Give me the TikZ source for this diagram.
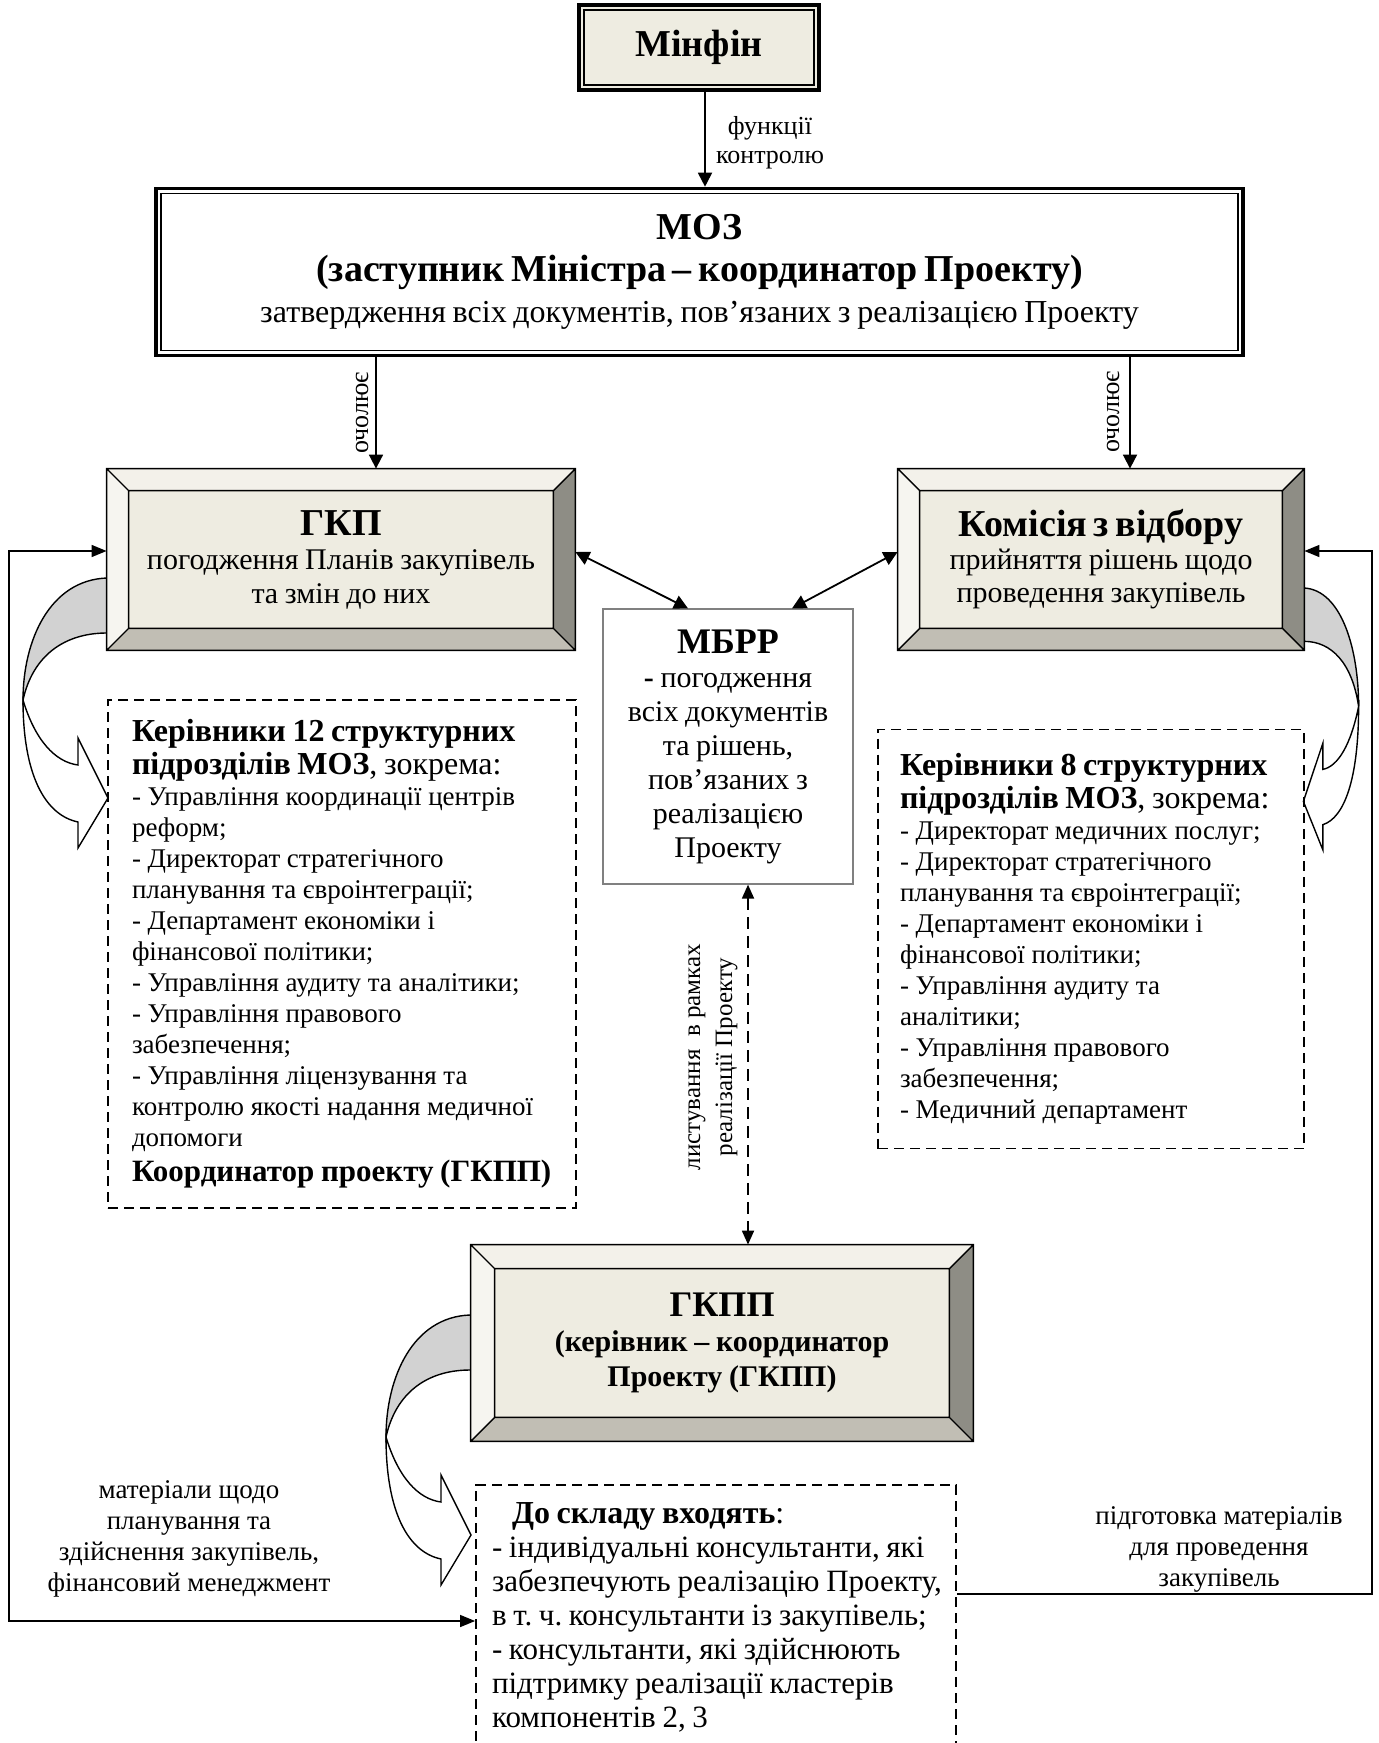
\documentclass[tikz,border=0pt]{standalone}
\usepackage{fontspec}
\setmainfont{Liberation Serif}
\usetikzlibrary{positioning, arrows.meta, calc}
\setlength{\parindent}{0pt}
\frenchspacing
\definecolor{orgFace}{HTML}{EEECE1}
\definecolor{orgTop}{HTML}{F3F1EA}
\definecolor{orgLeft}{HTML}{F6F5F0}
\definecolor{orgBottom}{HTML}{C1BEB4}
\definecolor{orgRight}{HTML}{8E8D85}
\definecolor{orgBend}{HTML}{D2D2D2}
\definecolor{orgGrey}{HTML}{808080}

\newcommand{\orgTitle}{\fontsize{19}{21}\selectfont\bfseries}
\newcommand{\orgDesc}{\fontsize{15}{17}\selectfont}
\newcommand{\orgHead}{\fontsize{16}{16.5}\selectfont\bfseries}
\newcommand{\orgBody}{\fontsize{13.5}{15.5}\selectfont}
\newcommand{\orgBig}{\fontsize{15.5}{17}\selectfont}

\newcommand{\bevelFrame}[2]{%
  \fill[orgTop] (#1.north west) -- (#1.north east) -- ($(#1.north east)+(-#2,-#2)$) -- ($(#1.north west)+(#2,-#2)$) -- cycle;
  \fill[orgLeft] (#1.north west) -- ($(#1.north west)+(#2,-#2)$) -- ($(#1.south west)+(#2,#2)$) -- (#1.south west) -- cycle;
  \fill[orgBottom] (#1.south west) -- ($(#1.south west)+(#2,#2)$) -- ($(#1.south east)+(-#2,#2)$) -- (#1.south east) -- cycle;
  \fill[orgRight] (#1.south east) -- ($(#1.south east)+(-#2,#2)$) -- ($(#1.north east)+(-#2,-#2)$) -- (#1.north east) -- cycle;
  \draw[line width=0.7pt] (#1.north west) rectangle (#1.south east)
    ($(#1.north west)+(#2,-#2)$) rectangle ($(#1.south east)+(-#2,#2)$)
    (#1.north west) -- ++(#2,-#2) (#1.north east) -- ++(-#2,-#2)
    (#1.south west) -- ++(#2,#2) (#1.south east) -- ++(-#2,#2);
}
\newcommand{\innerFrame}[1]{%
  \draw[line width=0.6pt] ($(#1.north west)+(3.4pt,-3.4pt)$) rectangle ($(#1.south east)+(-3.4pt,3.4pt)$);
}
\newcommand{\uturnArrow}[1]{%
  \begin{scope}[#1]
    \filldraw[fill=orgBend, line width=0.7pt] (0,0) .. controls (-57,2) and (-84,62) .. (-84,122)
      .. controls (-74,77) and (-42,55) .. (0,55);
    \filldraw[fill=white, line width=0.7pt] (-84,122) .. controls (-72,162) and (-52,184) .. (-29,187)
      -- (-29,160) -- (1,220) -- (-29,270) -- (-29,244) .. controls (-62,237) and (-84,197) .. (-84,122) -- cycle;
  \end{scope}}

\begin{document}
\begin{tikzpicture}[x=0.5pt, y=-0.5pt,
    orgDouble/.style={draw, line width=1.8pt, rectangle, align=center, inner sep=0pt},
    orgBevel/.style={rectangle, fill=orgFace, align=center, inner sep=0pt},
    orgPlain/.style={draw=orgGrey, line width=0.6pt, rectangle, fill=white, align=center, inner sep=0pt},
    orgNote/.style={draw, line width=0.9pt, dash pattern=on 5pt off 3pt, rectangle, align=left, inner ysep=0pt},
    orgArrow/.style={line width=0.9pt, -{Triangle[length=7pt, width=7pt]}},
    orgBoth/.style={line width=0.9pt, {Triangle[length=7pt, width=7pt]}-{Triangle[length=7pt, width=7pt]}},
    orgLink/.style={line width=0.9pt, dash pattern=on 6pt off 3.5pt, {Triangle[length=7pt, width=6pt]}-{Triangle[length=7pt, width=6pt]}},
    orgFeed/.style={line width=0.7pt},
    orgTag/.style={font=\fontsize{13}{14.5}\selectfont, align=center, inner sep=0pt},
    orgSide/.style={font=\fontsize{13.5}{15.5}\selectfont, align=center, inner sep=0pt},
]
\useasboundingbox (0,0) rectangle (1378,1743);

\node[orgDouble, fill=orgFace, minimum width=120pt, minimum height=42.5pt, font=\fontsize{19}{22}\selectfont\bfseries] (minfin) at (699,47.5) {Мінфін};
\innerFrame{minfin}
\node[orgDouble, fill=white, minimum width=543.5pt, minimum height=83.5pt, text width=520pt] (moz) at (699.5,272)
  {{\orgTitle МОЗ\\ (заступник Міністра – координатор Проекту)\par}\fontsize{16}{20.5}\selectfont затвердження всіх документів, пов’язаних з реалізацією Проекту\par};
\innerFrame{moz}

\uturnArrow{shift={(107,578)}}
\uturnArrow{shift={(1304,588)}, xscale=-0.65, yscale=0.97}
\uturnArrow{shift={(470,1315)}}

\node[orgBevel, minimum width=234pt, minimum height=90.5pt, text width=205pt] (gkp) at (341,559.5)
  {{\orgTitle ГКП\par}\orgDesc погодження Планів закупівель\\ та змін до них\par};
\bevelFrame{gkp}{11pt}
\node[orgBevel, minimum width=203pt, minimum height=90.5pt, text width=185pt] (kom) at (1101,559.5)
  {{\orgTitle Комісія з відбору\par}\fontsize{15}{16.5}\selectfont прийняття рішень щодо\\ проведення закупівель\par};
\bevelFrame{kom}{11pt}
\node[orgBevel, minimum width=251pt, minimum height=98pt, text width=220pt] (gkpp) at (722,1343)
  {{\fontsize{18}{21}\selectfont\bfseries ГКПП\par}{\fontsize{15}{17.5}\selectfont\bfseries (керівник – координатор\\ Проекту (ГКПП)\par}};
\bevelFrame{gkpp}{12pt}

\node[orgPlain, minimum width=125pt, minimum height=137.5pt, text width=115pt] (mbrr) at (728,746.5)
  {{\fontsize{18}{19}\selectfont\bfseries МБРР\par}\fontsize{15}{17}\selectfont\textbf{-} погодження\\ всіх документів\\ та рішень,\\ пов’язаних з\\ реалізацією\\ Проекту\par};

\node[orgNote, minimum width=234pt, minimum height=254pt, text width=210pt, inner xsep=12pt] (leftHeads) at (342,954)
  {{\orgHead Керівники 12 структурних\\ підрозділів МОЗ\mdseries, зокрема:\par}
   {\orgBody - Управління координації центрів\\ реформ;\\ - Директорат стратегічного\\ планування та євроінтеграції;\\ - Департамент економіки і\\ фінансової політики;\\ - Управління аудиту та аналітики;\\ - Управління правового\\ забезпечення;\\ - Управління ліцензування та\\ контролю якості надання медичної\\ допомоги\par}
   {\fontsize{15.5}{17.5}\selectfont\bfseries Координатор проекту (ГКПП)\par}};
\node[orgNote, minimum width=213pt, minimum height=209.5pt, text width=191pt, inner xsep=11pt] (rightHeads) at (1091,939)
  {{\orgHead Керівники 8 структурних\\ підрозділів МОЗ\mdseries, зокрема:\par}
   {\orgBody - Директорат медичних послуг;\\ - Директорат стратегічного\\ планування та євроінтеграції;\\ - Департамент економіки і\\ фінансової політики;\\ - Управління аудиту та\\ аналітики;\\ - Управління правового\\ забезпечення;\\ - Медичний департамент\par}};
\node[orgNote, anchor=north, minimum width=240pt, text width=224pt, inner xsep=8pt, inner ysep=9pt] (team) at (716,1484)
  {{\fontsize{16}{17}\selectfont\bfseries\hspace*{10pt}До складу входять\mdseries:\par}
   {\orgBig - індивідуальні консультанти, які\\ \mbox{забезпечують реалізацію Проекту,}\\ \mbox{в т. ч. консультанти із закупівель;}\\ - консультанти, які здійснюють\\ підтримку реалізації кластерів\\ компонентів 2, 3\par}};

\draw[orgArrow] ([xshift=3pt]minfin.south) -- ([xshift=3pt]minfin.south |- moz.north);
\node[orgTag] (ctrlTag) at (770,143) {функції\\контролю};
\draw[orgArrow] ([xshift=17.5pt]gkp.north |- moz.south) -- ([xshift=17.5pt]gkp.north);
\node[orgTag, rotate=90] (leadL) at (362,413) {очолює};
\draw[orgArrow] ([xshift=14.5pt]kom.north |- moz.south) -- ([xshift=14.5pt]kom.north);
\node[orgTag, rotate=90] (leadR) at (1113,412) {очолює};

\draw[orgBoth] ([yshift=3.75pt]gkp.east) -- ([xshift=-20pt]mbrr.north);
\draw[orgBoth] ([yshift=3.75pt]kom.west) -- ([xshift=32pt]mbrr.north);
\draw[orgLink] ([xshift=10pt]mbrr.south) -- ([xshift=10pt]mbrr.south |- gkpp.north);
\node[orgTag, rotate=90, font=\fontsize{12.5}{16}\selectfont] (mailTag) at (713,1057) {листування \ в рамках\\реалізації Проекту};

\coordinate (railL) at (9,0);
\coordinate (railR) at (1372,0);
\coordinate (gkpIn) at ([yshift=4.25pt]gkp.west);
\coordinate (komIn) at ([yshift=4.25pt]kom.east);
\coordinate (teamIn) at (team.west |- 0,1621);
\coordinate (teamOut) at (team.east |- 0,1594);
\draw[orgFeed, {Triangle[length=7.5pt, width=6pt]}-{Triangle[length=7.5pt, width=6pt]}] (teamIn) -- (teamIn -| railL) -- (gkpIn -| railL) -- (gkpIn);
\draw[orgFeed, -{Triangle[length=7.5pt, width=6pt]}] (teamOut) -- (teamOut -| railR) -- (komIn -| railR) -- (komIn);
\node[orgSide] (planTag) at (189,1539) {матеріали щодо\\планування та\\здійснення закупівель,\\фінансовий менеджмент};
\node[orgSide] (prepTag) at (1219,1549) {підготовка матеріалів\\для проведення\\закупівель};
\end{tikzpicture}
\end{document}
